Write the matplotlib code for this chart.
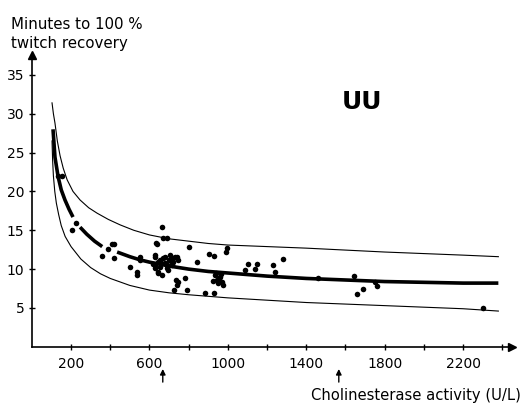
import numpy as np
import matplotlib.pyplot as plt

## Values
# fitted mean curve (thick), drawn in three pieces like the original
mean_x = [108, 118, 134, 150, 169, 190, 210,
          246, 280, 320, 359,
          435, 500, 551, 600, 700, 800, 900, 1000, 1200, 1400, 1800, 2200, 2380]
mean_y = [28.0, 24.4, 21.9, 20.2, 18.9, 17.7, 16.7,
          15.4, 14.5, 13.6, 12.9,
          12.2, 11.6, 11.2, 10.9, 10.4, 10.0, 9.7, 9.5, 9.1, 8.8, 8.4, 8.2, 8.2]
mean_breaks = [7, 11]   # gaps in the thick line after these indices

upper_x = [103, 110, 118, 130, 144, 160, 180, 210, 246, 290, 333, 390, 450, 520, 600, 700, 800, 900,
           1000, 1200, 1400, 1800, 2200, 2380]
upper_y = [31.4, 30.0, 28.8, 26.5, 24.6, 23.0, 21.5, 20.0, 18.9, 17.9, 17.2, 16.4, 15.7, 15.0, 14.4, 13.9,
           13.6, 13.3, 13.1, 12.9, 12.7, 12.2, 11.8, 11.6]

lower_x = [103, 106, 110, 117, 125, 137, 150, 170, 200, 250, 300, 350, 400, 500, 600, 700, 800, 1000,
           1200, 1400, 1800, 2200, 2380]
lower_y = [26.5, 24.0, 22.0, 20.0, 18.5, 17.0, 15.6, 14.2, 12.9, 11.3, 10.2, 9.4, 8.8, 7.9, 7.3, 6.95,
           6.7, 6.3, 6.0, 5.7, 5.3, 4.9, 4.6]

# individual patients
pts_x = [135, 155, 224, 204, 357, 388, 408, 418, 418, 500, 536, 536, 551, 551, 628, 638, 628, 643,
         663, 668, 689, 633, 628, 653, 679, 704, 730, 745, 719, 689, 653, 628, 643, 663, 694, 617, 714,
         680, 700, 710, 660, 670, 690, 720, 740, 645,
         801, 903, 929, 995, 990, 842, 781, 745, 740, 724, 791, 735, 883, 929,
         934, 959, 944, 969, 923, 974, 949, 955, 940, 965,
         1102, 1087, 1138, 1148,
         1230, 1240, 1280, 1459, 1643, 1658, 1689, 1750, 1760, 2301]
pts_y = [22.0, 22.0, 15.9, 15.0, 11.7, 12.6, 13.2, 13.2, 11.4, 10.3, 9.6, 9.2, 11.6, 11.2, 11.6, 13.2, 10.5, 9.5,
         15.4, 14.0, 14.0, 13.3, 11.8, 11.2, 11.6, 11.8, 11.6, 11.2, 10.9, 10.5, 10.3, 10.1, 9.6, 9.2, 9.9, 10.7, 10.5,
         10.8, 11.2, 11.0, 10.8, 11.4, 10.2, 11.4, 11.6, 10.9,
         12.9, 11.9, 11.7, 12.7, 12.2, 10.9, 8.9, 8.3, 8.0, 7.3, 7.3, 8.6, 6.9, 6.9,
         9.2, 9.0, 8.6, 8.3, 8.5, 8.0, 8.2, 8.8, 9.5, 9.4,
         10.7, 9.9, 10.0, 10.7,
         10.5, 9.6, 11.3, 8.9, 9.1, 6.8, 7.4, 8.3, 7.8, 5.0]

arrow_x = [668, 1566]
xticks_major = [200, 600, 1000, 1400, 1800, 2200]
xticks_minor = [400, 800, 1200, 1600, 2000, 2400]
yticks = [5, 10, 15, 20, 25, 30, 35]

plt.rcParams['font.family'] = ['DejaVu Sans']

fig = plt.figure(figsize=(5.22, 4.08), dpi=100)
ax = fig.add_axes([0.061, 0.15, 0.92, 0.714])

ax.plot(upper_x, upper_y, color='black', lw=0.8)
ax.plot(lower_x, lower_y, color='black', lw=0.8)
starts = [0] + mean_breaks
ends = mean_breaks + [len(mean_x)]
for a, b in zip(starts, ends):
    ax.plot(mean_x[a:b], mean_y[a:b], color='black', lw=2.6, solid_capstyle='butt')
ax.scatter(pts_x, pts_y, s=16, color='black', zorder=3, linewidths=0)

ax.set_xlim(0, 2450)
ax.set_ylim(0, 37.5)
for s in ['top', 'right']:
    ax.spines[s].set_visible(False)
ax.spines['left'].set_linewidth(1.2)
ax.spines['bottom'].set_linewidth(1.2)

ax.set_xticks(xticks_major)
ax.set_xticks(xticks_minor, minor=True)
ax.set_yticks(yticks)
ax.tick_params(axis='both', which='both', direction='inout', length=5, width=1, labelsize=10, pad=3)
ax.tick_params(axis='x', which='major', pad=5)

# axis arrow heads
ax.plot(1, 0, '>', color='black', ms=6, transform=ax.transAxes, clip_on=False)
ax.plot(0, 1, '^', color='black', ms=6, transform=ax.transAxes, clip_on=False)

# arrows below the x axis
for xa in arrow_x:
    ax.annotate('', xy=(xa, -2.5), xytext=(xa, -4.9), annotation_clip=False,
                arrowprops=dict(arrowstyle='-|>', color='black', lw=1, mutation_scale=8))

ax.text(1583, 31.5, 'UU', fontsize=18, fontweight='bold', ha='left', va='center')

fig.text(0.022, 0.94, 'Minutes to 100 %', fontsize=10.8, ha='left', va='center')
fig.text(0.022, 0.893, 'twitch recovery', fontsize=10.8, ha='left', va='center')
fig.text(0.997, 0.03, 'Cholinesterase activity (U/L)', fontsize=10.6, ha='right', va='center')

fig.savefig('out.png', dpi=100)
